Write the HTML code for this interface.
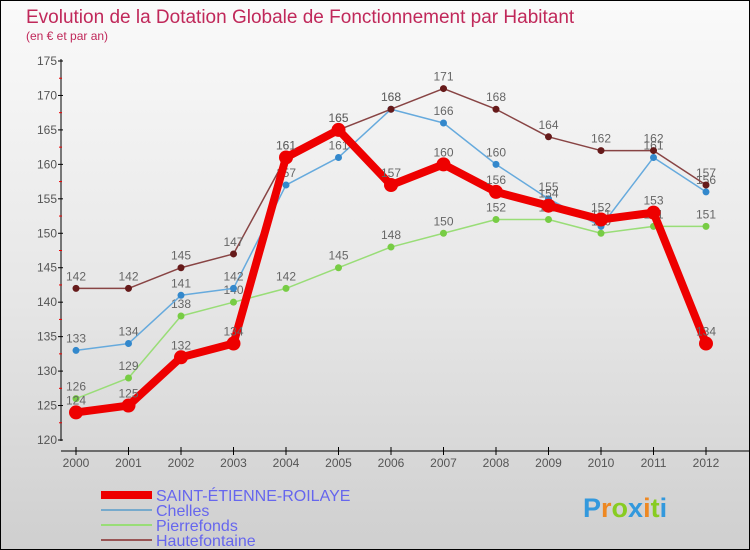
<!DOCTYPE html>
<html><head><meta charset="utf-8"><style>
body{margin:0}
#c{position:relative;width:748px;height:548px;border:1px solid #000;background:linear-gradient(#fafafa,#e6e6e6 55%,#cfcfcf);overflow:hidden;font-family:"Liberation Sans",sans-serif}
svg text{font-family:"Liberation Sans",sans-serif}
</style></head><body>
<div id="c">
<svg id="s" width="748" height="548"></svg>
</div>
<script>
const years=[2000,2001,2002,2003,2004,2005,2006,2007,2008,2009,2010,2011,2012];
const yTicks=[120,125,130,135,140,145,150,155,160,165,170,175];
const stEtienne=[124,125,132,134,161,165,157,160,156,154,152,153,134];
const chelles=[133,134,141,142,157,161,168,166,160,155,151,161,156];
const pierrefonds=[126,129,138,140,142,145,148,150,152,152,150,151,151];
const hautefontaine=[142,142,145,147,161,165,168,171,168,164,162,162,157];
const seriesNames=["SAINT-ÉTIENNE-ROILAYE","Chelles","Pierrefonds","Hautefontaine"];

const NS="http://www.w3.org/2000/svg";
const s=document.getElementById('s');
function X(i){return 75+i*52.5;}
function Y(v){return 439-(v-120)*(379/55);}
function el(t,a,txt){const e=document.createElementNS(NS,t);for(const k in a)e.setAttribute(k,a[k]);if(txt!==undefined)e.textContent=txt;s.appendChild(e);return e;}

let t=el('text',{x:25,y:22,fill:'#c0285a','font-size':19},'Evolution de la Dotation Globale de Fonctionnement par Habitant');


t=el('text',{x:25,y:39,fill:'#c0285a','font-size':12},'(en € et par an)');



let a=el('line',{x1:60,y1:58,x2:60,y2:440,stroke:'#000','stroke-width':1});


a=el('line',{x1:60,y1:450,x2:748,y2:450,stroke:'#000','stroke-width':1});


yTicks.forEach((v,i)=>{
  el('line',{x1:57,y1:Y(v),x2:62,y2:Y(v),stroke:'#000'});
  if(i<yTicks.length-1)el('line',{x1:58,y1:Y(v+2.5),x2:61,y2:Y(v+2.5),stroke:'#e00'});
  const l=el('text',{x:56,y:Y(v)+4,'text-anchor':'end','font-size':12,fill:'#555'},v);
  
  
});
years.forEach((y,i)=>{
  el('line',{x1:X(i),y1:446,x2:X(i),y2:454,stroke:'#000'});
  const l=el('text',{x:X(i),y:466,'text-anchor':'middle','font-size':12,fill:'#555'},y);
  
  
});

function series(data,color,w,r,name,ptColor){
  const g=el('g',{});
  
  
  const p=document.createElementNS(NS,'polyline');
  p.setAttribute('points',data.map((v,i)=>X(i)+','+Y(v)).join(' '));
  p.setAttribute('fill','none');p.setAttribute('stroke',color);p.setAttribute('stroke-width',w);p.setAttribute('stroke-linejoin','round');
  g.appendChild(p);
  data.forEach((v,i)=>{
    const c=document.createElementNS(NS,'circle');
    c.setAttribute('cx',X(i));c.setAttribute('cy',Y(v));c.setAttribute('r',r);c.setAttribute('fill',ptColor);
    
    
    g.appendChild(c);
    const tx=document.createElementNS(NS,'text');
    tx.setAttribute('x',X(i));tx.setAttribute('y',Y(v)-8);tx.setAttribute('text-anchor','middle');
    tx.setAttribute('font-size',12);tx.setAttribute('fill','#666');tx.textContent=v;
    g.appendChild(tx);
  });
  s.appendChild(g);
}
series(pierrefonds,'#99dd77',1.5,3.5,'series-pierrefonds','#77cc44');
series(chelles,'#66aadd',1.5,3.5,'series-chelles','#3388cc');
series(hautefontaine,'#884444',1.5,3.5,'series-hautefontaine','#661a1a');
series(stEtienne,'#ee0000',8,7,'series-saint-etienne','#ee0000');

const lc=[['#ee0000',8],['#77aacc',2],['#99dd77',2],['#995555',2]];
seriesNames.forEach((n,i)=>{
  const y=494+i*15;
  const l=el('line',{x1:100,y1:y,x2:151,y2:y,stroke:lc[i][0],'stroke-width':lc[i][1]});
  
  
  const tx=el('text',{x:155,y:y+6,'font-size':16,fill:'#6666ee'},n);
  
  
});
const px=[['P','#3399dd'],['r','#ee8822'],['o','#88cc22'],['x','#3399dd'],['i','#ee8822'],['t','#88cc22'],['i','#3399dd']];
const lg=el('text',{x:582,y:516,'font-size':27,'font-weight':'bold'});


px.forEach(p=>{const ts=document.createElementNS(NS,'tspan');ts.setAttribute('fill',p[1]);ts.textContent=p[0];lg.appendChild(ts);});
</script>
</body></html>
